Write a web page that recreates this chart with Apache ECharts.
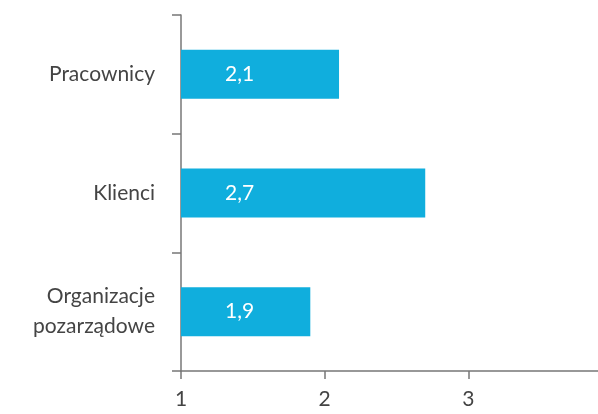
<!DOCTYPE html>
<html>
<head>
<meta charset="utf-8">
<script src="https://cdn.jsdelivr.net/npm/echarts@6/dist/echarts.min.js"></script>
<style>
  html, body { margin: 0; padding: 0; background: #fff; }
  #chart { width: 598px; height: 414px; }
</style>
</head>
<body>
<div id="chart"></div>
<script>
  const categories = ['Pracownicy', 'Klienci', 'Organizacje\npozarządowe'];
  const values = [2.1, 2.7, 1.9];
  const axisMin = 1;
  const axisMax = 4;
  const axisStep = 1;

  const chart = echarts.init(document.getElementById('chart'));
  chart.setOption({
    animation: false,
    textStyle: { fontFamily: 'Lato, "Open Sans", sans-serif' },
    grid: {
      left: 181, right: -14, top: 15, bottom: 43,
      containLabel: false,
      outerBoundsMode: 'none',
    },
    xAxis: {
      type: 'value',
      min: axisMin,
      max: axisMax,
      interval: axisStep,
      axisLine: { show: true, lineStyle: { color: '#777', width: 1.5 } },
      axisTick: { show: true, length: 8, lineStyle: { color: '#777', width: 1.5 } },
      splitLine: { show: false },
      axisLabel: { color: '#444', fontSize: 21, margin: 18 },
    },
    yAxis: {
      type: 'category',
      inverse: true,
      data: categories,
      axisLine: { show: true, lineStyle: { color: '#777', width: 1.5 } },
      axisTick: { show: true, length: 9, lineStyle: { color: '#777', width: 1.5 } },
      axisLabel: { color: '#444', fontSize: 21, margin: 26, lineHeight: 30, align: 'right' },
    },
    series: [
      {
        type: 'bar',
        data: values,
        barWidth: 49,
        itemStyle: { color: '#10aedd' },
        label: {
          show: true,
          position: 'insideLeft',
          distance: 44,
          color: '#fff',
          fontSize: 21,
          formatter: (p) => String(p.value).replace('.', ','),
        },
      },
    ],
  });
</script>
</body>
</html>
